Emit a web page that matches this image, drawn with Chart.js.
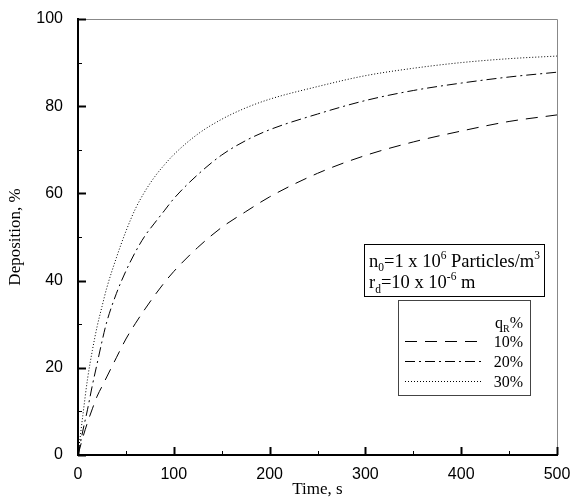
<!DOCTYPE html>
<html lang="en">
<head>
    <meta charset="UTF-8">
    <title>Deposition vs Time</title>
    <style>
        body { margin: 0; background: #fff; }
    </style>
</head>
<body>
<div>
    <canvas id="myChart" width="578" height="500"></canvas>
</div>

<script src="https://cdn.jsdelivr.net/npm/chart.js"></script>

<script>
    // data
    const time = [0, 5, 10, 15, 20, 25, 30, 40, 50, 60, 70, 80, 90, 100, 125, 150, 175, 200, 250, 300, 350, 400, 450, 500];
    const dep10 = [0, 4, 7.5, 10.6, 13.5, 15.7, 17.9, 22.3, 26.6, 30.2, 33.5, 36.6, 39.5, 42.1, 47.6, 52.2, 55.8, 59.2, 64.6, 68.7, 71.8, 74.3, 76.5, 78];
    const dep20 = [0, 5.5, 10.5, 16, 21, 26, 30.5, 37, 42.2, 46.6, 50.3, 53.2, 56, 58.8, 64.3, 68.8, 72.1, 74.6, 78.2, 81.3, 83.6, 85.3, 86.7, 87.8];
    const dep30 = [0, 9, 17.5, 24, 29.5, 34, 38.3, 45.2, 51.3, 56.5, 60.5, 63.8, 66.5, 68.9, 73.6, 77, 79.6, 81.6, 84.5, 87, 88.7, 90, 90.9, 91.5];
    const legendLabels = ['10%', '20%', '30%'];
    const xTicks = [0, 100, 200, 300, 400, 500];
    const yTicks = [0, 20, 40, 60, 80, 100];

    const dashes = [[12, 8], [10, 4, 2, 4], [1, 2]];
    const serif = "'Liberation Serif', 'Times New Roman', serif";
    const sans = "'Liberation Sans', Arial, sans-serif";

    const toPoints = arr => time.map((t, i) => ({x: t, y: arr[i]}));

    // text with sub/superscripts: parts = [[text, 'n'|'sub'|'sup'], ...]
    function richText(ctx, parts, x, y, size) {
        let cx = x;
        parts.forEach(([txt, kind]) => {
            const s = kind === 'n' ? size : size * 0.62;
            const dy = kind === 'sub' ? size * 0.25 : (kind === 'sup' ? -size * 0.42 : 0);
            ctx.font = s + 'px ' + serif;
            ctx.fillText(txt, cx, y + dy);
            cx += ctx.measureText(txt).width;
        });
        return cx - x;
    }

    function richWidth(ctx, parts, size) {
        let w = 0;
        parts.forEach(([txt, kind]) => {
            ctx.font = (kind === 'n' ? size : size * 0.62) + 'px ' + serif;
            w += ctx.measureText(txt).width;
        });
        return w;
    }

    const decorPlugin = {
        id: 'decor',
        afterDraw(chart) {
            const ctx = chart.ctx;
            const xs = chart.scales.x, ys = chart.scales.y;
            const a = chart.chartArea;
            ctx.save();

            // thin frame top / right
            ctx.strokeStyle = '#888';
            ctx.lineWidth = 1;
            ctx.beginPath();
            ctx.moveTo(a.left, a.top + 0.5);
            ctx.lineTo(a.right + 0.5, a.top + 0.5);
            ctx.lineTo(a.right + 0.5, a.bottom);
            ctx.stroke();

            // inward ticks
            ctx.strokeStyle = '#000';
            for (let v = 0; v <= 100; v += 10) {
                const py = Math.round(ys.getPixelForValue(v)) + 0.5;
                const len = v % 20 === 0 ? 8 : 4;
                ctx.lineWidth = v % 20 === 0 ? 2 : 1;
                ctx.beginPath();
                ctx.moveTo(a.left, py);
                ctx.lineTo(a.left + len, py);
                ctx.stroke();
            }
            for (let v = 0; v <= 500; v += 50) {
                const px = Math.round(xs.getPixelForValue(v)) + 0.5;
                const len = v % 100 === 0 ? 8 : 4;
                ctx.lineWidth = v % 100 === 0 ? 2 : 1;
                ctx.beginPath();
                ctx.moveTo(px, a.bottom);
                ctx.lineTo(px, a.bottom - len);
                ctx.stroke();
            }

            // parameter box
            ctx.lineWidth = 1;
            ctx.strokeStyle = '#000';
            ctx.fillStyle = '#fff';
            ctx.fillRect(364, 244, 180, 52);
            ctx.strokeRect(364.5, 244.5, 180, 52);
            ctx.fillStyle = '#000';
            ctx.textBaseline = 'alphabetic';
            ctx.textAlign = 'left';
            richText(ctx, [['n', 'n'], ['0', 'sub'], ['=1 x 10', 'n'], ['6', 'sup'], [' Particles/m', 'n'], ['3', 'sup']], 369, 266.5, 18.5);
            richText(ctx, [['r', 'n'], ['d', 'sub'], ['=10 x 10', 'n'], ['-6', 'sup'], [' m', 'n']], 369, 288, 18.5);

            // legend box
            ctx.strokeStyle = '#444';
            ctx.fillStyle = '#fff';
            ctx.fillRect(398, 300, 133, 96);
            ctx.strokeRect(398.5, 300.5, 132, 95);
            ctx.fillStyle = '#000';
            const qParts = [['q', 'n'], ['R', 'sub'], ['%', 'n']];
            richText(ctx, qParts, 523 - richWidth(ctx, qParts, 16), 328, 16);

            const rows = [341.5, 361.5, 381.5];
            ctx.textAlign = 'right';
            legendLabels.forEach((lab, i) => {
                ctx.font = '16px ' + serif;
                ctx.fillText(lab, 523, rows[i] + 5.5);
                ctx.setLineDash(dashes[i]);
                ctx.strokeStyle = '#000';
                ctx.lineWidth = 1;
                ctx.beginPath();
                ctx.moveTo(405, rows[i]);
                ctx.lineTo(481, rows[i]);
                ctx.stroke();
            });
            ctx.setLineDash([]);
            ctx.restore();
        }
    };

    const ctx = document.getElementById('myChart');

    new Chart(ctx, {
        type: 'line',
        data: {
            datasets: [
                {
                    label: legendLabels[0],
                    data: toPoints(dep10),
                    borderColor: '#000',
                    borderWidth: 1,
                    borderDash: dashes[0],
                    pointRadius: 0,
                    cubicInterpolationMode: 'monotone'
                },
                {
                    label: legendLabels[1],
                    data: toPoints(dep20),
                    borderColor: '#000',
                    borderWidth: 1,
                    borderDash: dashes[1],
                    pointRadius: 0,
                    cubicInterpolationMode: 'monotone'
                },
                {
                    label: legendLabels[2],
                    data: toPoints(dep30),
                    borderColor: '#000',
                    borderWidth: 1,
                    borderDash: dashes[2],
                    pointRadius: 0,
                    cubicInterpolationMode: 'monotone'
                }
            ]
        },
        options: {
            responsive: false,
            animation: false,
            layout: {
                padding: {top: 19, right: 21, left: 0, bottom: 0}
            },
            scales: {
                x: {
                    type: 'linear',
                    min: 0,
                    max: 500,
                    afterFit: s => { s.height = 45; },
                    afterBuildTicks: s => { s.ticks = xTicks.map(v => ({value: v})); },
                    grid: {display: false},
                    border: {display: true, color: '#000', width: 2},
                    ticks: {
                        color: '#000',
                        padding: 2,
                        maxRotation: 0,
                        font: {family: sans, size: 16}
                    },
                    title: {
                        display: true,
                        text: 'Time, s',
                        color: '#000',
                        padding: {top: 0, bottom: 0},
                        font: {family: serif, size: 17}
                    }
                },
                y: {
                    min: 0,
                    max: 100,
                    afterFit: s => { s.width = 78; },
                    afterBuildTicks: s => { s.ticks = yTicks.map(v => ({value: v})); },
                    grid: {display: false},
                    border: {display: true, color: '#000', width: 2},
                    ticks: {
                        color: '#000',
                        padding: 7,
                        font: {family: sans, size: 16}
                    },
                    title: {
                        display: true,
                        text: 'Deposition, %',
                        color: '#000',
                        padding: {top: 5, bottom: 0},
                        font: {family: serif, size: 17}
                    }
                }
            },
            plugins: {
                legend: {display: false},
                tooltip: {enabled: false}
            }
        },
        plugins: [decorPlugin]
    });
</script>
</body>
</html>
